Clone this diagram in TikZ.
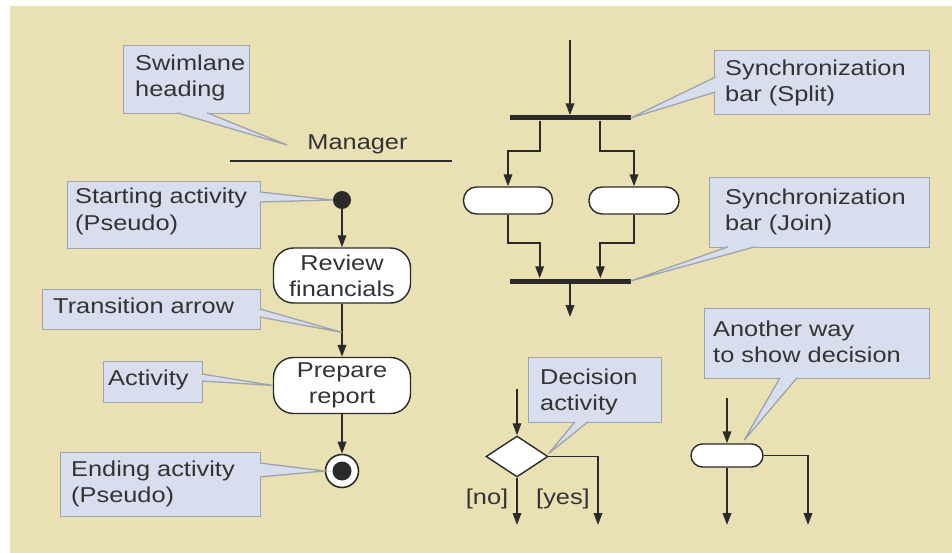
\documentclass[tikz,border=0pt]{standalone}
\usepackage{fontspec}
\setmainfont{Liberation Sans}[FakeStretch=1.18]
\usetikzlibrary{arrows.meta,calc,shapes.geometric}
\definecolor{bg}{HTML}{E9E1B3}
\definecolor{cfill}{HTML}{D9DEEE}
\definecolor{cline}{HTML}{9EA3AE}
\definecolor{ink}{HTML}{2A2A2A}
\definecolor{txt}{HTML}{333333}
\begin{document}
\begin{tikzpicture}[x=1pt,y=-1pt,
  every node/.style={font=\fontsize{21.5}{26}\selectfont, text=txt},
  cbox/.style={draw=cline, fill=cfill, line width=1.3pt, inner sep=0, anchor=north west},
  ctext/.style={anchor=base west, align=left, inner sep=0},
  cptr/.style={draw=cline, fill=cfill, line width=1.3pt, line join=miter},
  act/.style={draw=ink, fill=white, line width=1.4pt, rounded corners=20pt, minimum width=137pt, minimum height=55pt, inner sep=0, align=center},
  oval/.style={draw=ink, fill=white, line width=1.4pt, rounded corners=13pt, inner sep=0},
  arr/.style={draw=ink, line width=1.8pt, -{Triangle[length=12pt,width=8.5pt]}},
  bar/.style={fill=ink, inner sep=0, minimum height=5pt, minimum width=121pt},
]
\useasboundingbox (0,0) rectangle (952,553);
\fill[white] (0,0) rectangle (952,553);
\fill[bg] (10,6) rectangle (952,553);

% ---- left column: activity flow
\node[anchor=base, inner sep=0] (mgr) at (357.5,150) {Manager};
\coordinate (laneL) at (230,161);
\coordinate (laneR) at (452,161);
\draw[draw=ink, line width=1.4pt] (laneL) -- (laneR);

\node[circle, fill=ink, minimum size=18pt, inner sep=0] (start) at (342,200) {};
\node[act] (rev) at (342,275.5) {Review\\financials};
\node[act, minimum height=56pt] (prep) at (342,385.5) {Prepare\\report};
\node[circle, draw=ink, line width=1.6pt, fill=white, minimum size=33pt, inner sep=0] (end) at (342,471) {};
\node[circle, fill=ink, minimum size=19pt, inner sep=0] (endin) at (end.center) {};
\draw[arr] (start) -- (rev);
\draw[arr] (rev) -- (prep);
\draw[arr] (prep) -- (end);
\coordinate (trans) at ($(rev.south)!0.54!(prep.north)$);

% ---- synchronization
\coordinate (tin) at (570,40);
\node[bar] (split) at (570,118) {};
\draw[arr] (tin) -- (split.north);
\node[oval, minimum width=89pt, minimum height=27pt] (ovL) at (508,200.5) {};
\node[oval, minimum width=90pt, minimum height=27pt] (ovR) at (634,200.5) {};
\draw[arr] ($(split.south west)!.25!(split.south east)$) -- ++(0,30) -| (ovL.north);
\draw[arr] ($(split.south west)!.75!(split.south east)$) -- ++(0,30) -| (ovR.north);
\node[bar] (join) at (570,281) {};
\draw[arr] (ovL.south) -- ++(0,28) -| ($(join.north west)!.25!(join.north east)$);
\draw[arr] (ovR.south) -- ++(0,28) -| ($(join.north west)!.75!(join.north east)$);
\coordinate (jout) at (570,317);
\draw[arr] (join.south) -- (jout);

% ---- decision
\coordinate (din) at (517,389);
\node[diamond, draw=ink, fill=white, line width=1.4pt, minimum width=62pt, minimum height=41pt, inner sep=0] (dia) at (517,456.5) {};
\draw[arr] (din) -- (dia.north);
\coordinate (dno) at (517,525);
\coordinate (dyes) at (598,525);
\draw[arr] (dia.south) -- (dno);
\draw[arr] (dia.east) -| (dyes);
\node (no) at (487,499) {[no]};
\node (yes) at (563,499) {[yes]};

% ---- another way
\coordinate (ain) at (727,398);
\node[oval, minimum width=72pt, minimum height=23pt, rounded corners=11.5pt] (ov3) at (727,455.5) {};
\draw[arr] (ain) -- (ov3.north);
\coordinate (ano) at (727,525);
\coordinate (ayes) at (808,525);
\draw[arr] (ov3.south) -- (ano);
\draw[arr] (ov3.east) -| (ayes);

% ---- callouts (text anchors are at the baseline of the last line)
\coordinate (swtip) at (287,145);
\node[cbox, minimum width=126pt, minimum height=68pt] (swb) at (123,45) {};
\filldraw[cptr] ($(swb.south west)+(54,-1.5)$) -- (swtip) -- ($(swb.south west)+(84,-1.5)$);
\node[ctext] (swt) at (135,97) {Swimlane\\heading};

\node[cbox, minimum width=193pt, minimum height=67pt] (stb) at (67,181) {};
\filldraw[cptr] ($(stb.north east)+(-1.5,11)$) -- (start.west) -- ($(stb.north east)+(-1.5,21)$);
\node[ctext] (stt) at (75,230) {Starting activity\\(Pseudo)};

\node[cbox, minimum width=218pt, minimum height=40pt] (trb) at (42,289) {};
\filldraw[cptr] ($(trb.north east)+(-1.5,20)$) -- (trans) -- ($(trb.north east)+(-1.5,28)$);
\node[ctext] (trt) at (53,313) {Transition arrow};

\node[cbox, minimum width=99pt, minimum height=41pt] (acb) at (103,361) {};
\filldraw[cptr] ($(acb.north east)+(-1.5,13)$) -- (prep.west) -- ($(acb.north east)+(-1.5,20)$);
\node[ctext] (act) at (108,385) {Activity};

\node[cbox, minimum width=200pt, minimum height=64pt] (enb) at (60,452) {};
\filldraw[cptr] ($(enb.north east)+(-1.5,11)$) -- (end.west) -- ($(enb.north east)+(-1.5,25)$);
\node[ctext] (ent) at (71,502) {Ending activity\\(Pseudo)};

\node[cbox, minimum width=215pt, minimum height=64pt] (spb) at (714,50) {};
\filldraw[cptr] ($(spb.north west)+(1.5,27)$) -- (split.east) -- ($(spb.north west)+(1.5,42)$);
\node[ctext] (spt) at (725,102) {Synchronization\\bar (Split)};

\node[cbox, minimum width=220pt, minimum height=70pt] (jnb) at (709,177) {};
\filldraw[cptr] ($(jnb.south west)+(19,-1.5)$) -- (join.east) -- ($(jnb.south west)+(46,-1.5)$);
\node[ctext] (jnt) at (725,231) {Synchronization\\bar (Join)};

\node[cbox, minimum width=133pt, minimum height=65pt] (deb) at (528,357) {};
\filldraw[cptr] ($(deb.south west)+(47,-1.5)$) -- ($(dia.east)+(0,-3)$) -- ($(deb.south west)+(60,-1.5)$);
\node[ctext] (det) at (540,410) {Decision\\activity};

\node[cbox, minimum width=225pt, minimum height=70pt] (anb) at (704,308) {};
\filldraw[cptr] ($(anb.south west)+(76,-1.5)$) -- ($(ov3.north)+(17,-3)$) -- ($(anb.south west)+(93,-1.5)$);
\node[ctext] (ant) at (713,362) {Another way\\to show decision};
\end{tikzpicture}
\end{document}
